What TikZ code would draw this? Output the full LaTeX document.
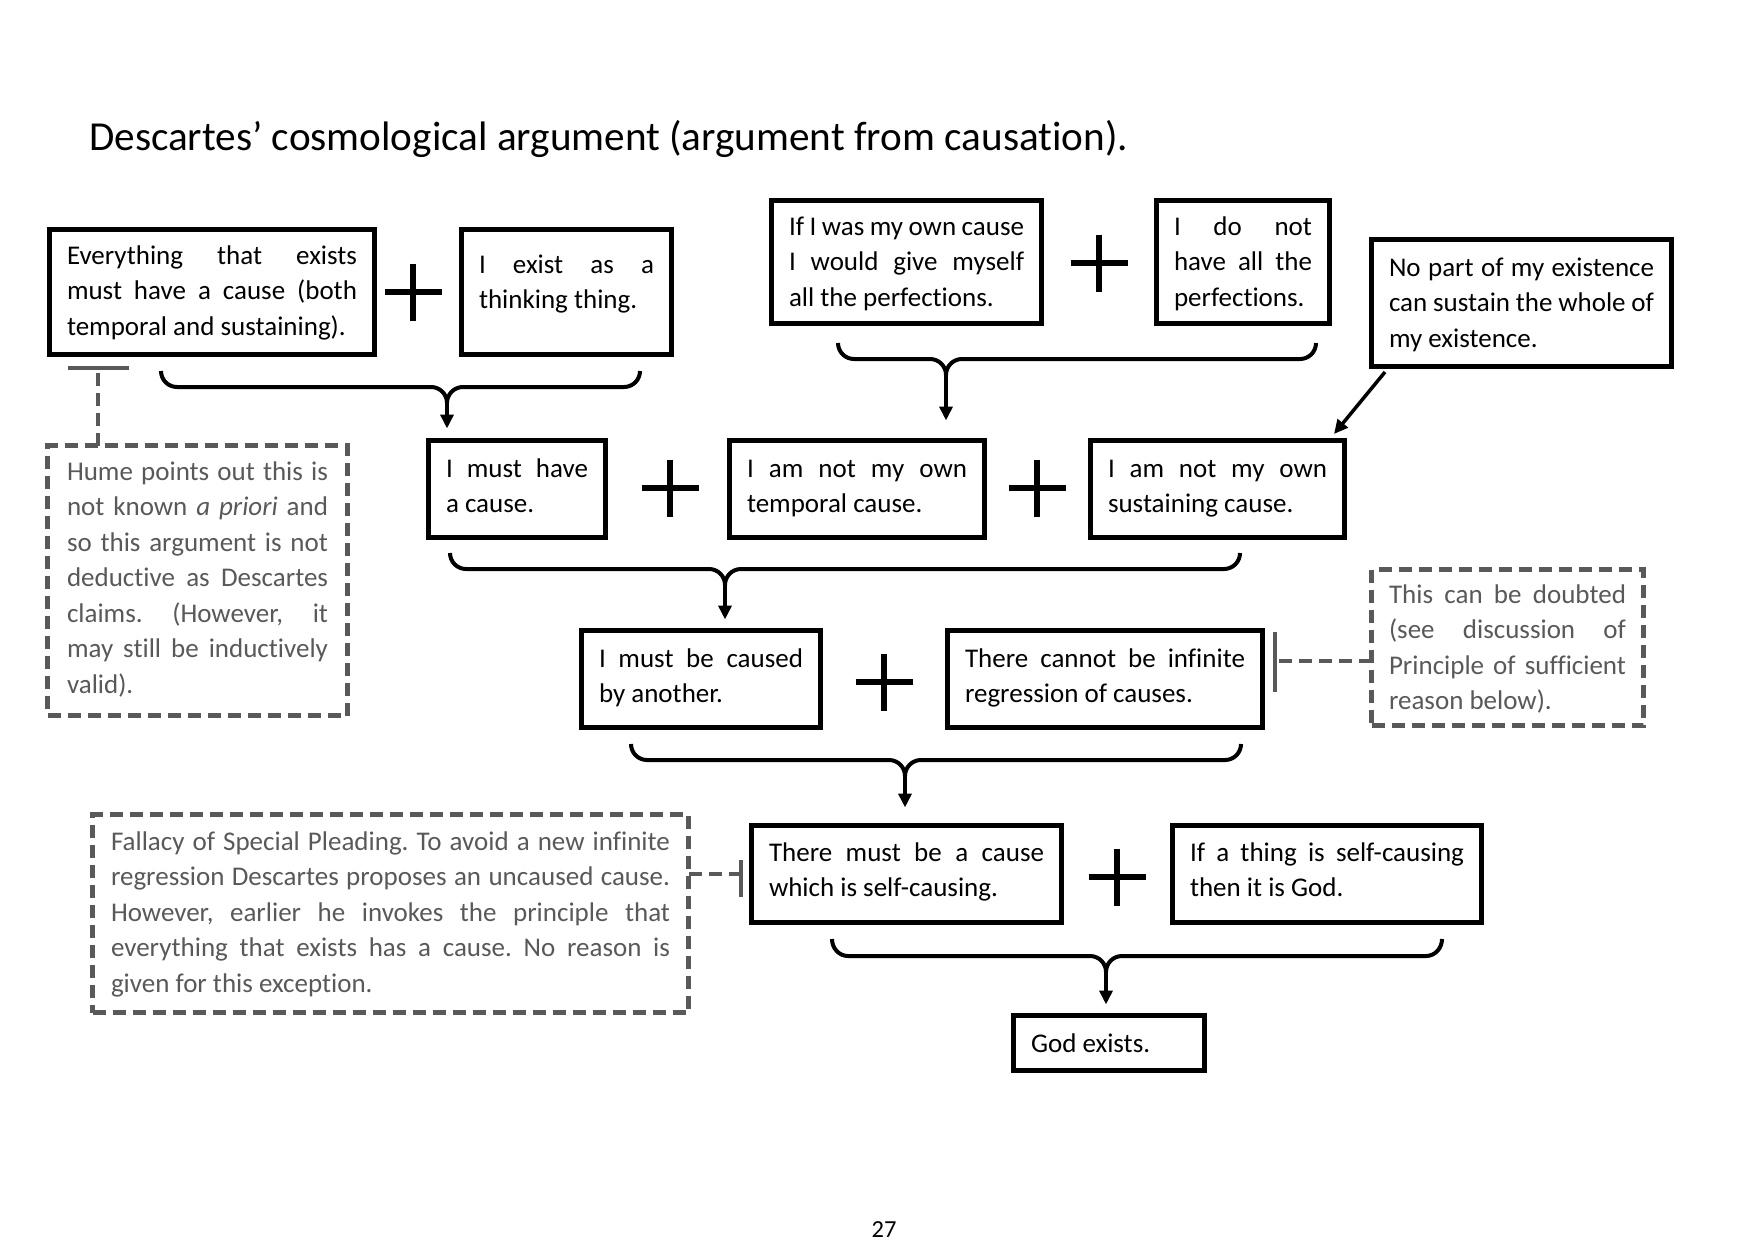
\documentclass[tikz,border=0pt]{standalone}
\usepackage{fontspec}
\setmainfont{Carlito}[Ligatures=NoCommon]
\usetikzlibrary{arrows.meta,calc}
\definecolor{cmtgray}{HTML}{595959}
\frenchspacing
\newcommand\bodyf{\fontsize{27}{35.5}\selectfont\frenchspacing\hyphenpenalty=10000\exhyphenpenalty=10000\tolerance=10000}
% name, style, x1, y1, x2, y2 (outer edges), first baseline, padding, text
\newcommand\Bx[9]{%
 \pgfmathsetmacro\bxX{#3+2.5}%
 \pgfmathsetmacro\bxY{#4+2.5}%
 \pgfmathsetmacro\bxP{#8-2.5}%
 \pgfmathsetmacro\bxW{#5-#3-2*#8}%
 \pgfmathsetmacro\bxH{#7-#4-2.5}%
 \pgfmathsetmacro\bxD{#6-2.5-#7}%
 \node[#2, inner xsep=\bxP pt, text width=\bxW pt, text height=\bxH pt, text depth=\bxD pt] (#1) at (\bxX,\bxY) {#9};}
\begin{document}
\begin{tikzpicture}[x=1pt,y=-1pt,
 box/.style={draw=black, line width=5pt, inner ysep=0pt, outer sep=0pt, align=justify, font=\bodyf, text=black, anchor=north west},
 note/.style={draw=cmtgray, line width=4.5pt, dash pattern=on 13pt off 7pt, inner ysep=0pt, outer sep=0pt, align=justify, font=\bodyf, text=cmtgray, anchor=north west},
 brace/.style={line width=4pt},
 arr/.style={line width=3.5pt, -{Triangle[length=14pt,width=13pt]}},
 plusmark/.style={line width=6.5pt},
 tbar/.style={draw=cmtgray, line width=4.5pt},
 dlink/.style={draw=cmtgray, line width=4.5pt, dash pattern=on 13pt off 7pt},
]
\fill[white] (0,0) rectangle (1740,1240);
\useasboundingbox (0,0) rectangle (1740,1240);

% title
\node[anchor=base west, inner sep=0pt, font=\fontsize{41.2}{48}\selectfont] (title) at (89,150)
 {Descartes’ cosmological argument (argument from causation).};

% main boxes
\Bx{b1}{box}{47}{227}{377}{357}{264}{20}{Everything that exists\linebreak must have a cause (both\linebreak temporal and sustaining).}
\Bx{b2}{box}{459}{227}{674}{357}{273}{20}{I exist as a\linebreak thinking thing.}
\Bx{b3}{box}{769}{198}{1044}{326}{235}{20}{If I was my own cause\linebreak I would give myself\linebreak all the perfections.}
\Bx{b4}{box}{1154}{198}{1332}{326}{235}{20}{I do not\linebreak have all the\linebreak perfections.}
\Bx{b5}{box}{1369}{237}{1674}{369}{276}{20}{No part of my existence\linebreak can sustain the whole of\linebreak my existence.}
\Bx{b6}{box}{426}{438}{608}{540}{477}{20}{I must have\linebreak a cause.}
\Bx{b7}{box}{727}{438}{987}{540}{477}{20}{I am not my own\linebreak temporal cause.}
\Bx{b8}{box}{1088}{438}{1347}{540}{477}{20}{I am not my own\linebreak sustaining cause.}
\Bx{b9}{box}{579}{628}{823}{730}{667}{20}{I must be caused\linebreak by another.}
\Bx{b10}{box}{945}{628}{1265}{730}{667}{20}{There cannot be infinite\linebreak regression of causes.}
\Bx{b11}{box}{749}{823}{1064}{925}{861}{20}{There must be a cause\linebreak which is self-causing.}
\Bx{b12}{box}{1170}{823}{1484}{925}{861}{20}{If a thing is self-causing\linebreak then it is God.}
\Bx{b13}{box}{1011}{1013}{1207}{1073}{1052}{20}{God exists.}

% comment boxes
\Bx{d1}{note}{45}{443}{350}{718}{480}{22}{Hume points out this is\linebreak not known \textit{a priori} and\linebreak so this argument is not\linebreak deductive as Descartes\linebreak claims. (However, it\linebreak may still be inductively\linebreak valid).}
\Bx{d2}{note}{1369}{567}{1646}{728}{603}{20}{This can be doubted\linebreak (see discussion of\linebreak Principle of sufficient\linebreak reason below).}
\Bx{d3}{note}{90}{812}{691}{1015}{850}{21}{Fallacy of Special Pleading. To avoid a new infinite\linebreak regression Descartes proposes an uncaused cause.\linebreak However, earlier he invokes the principle that\linebreak everything that exists has a cause. No reason is\linebreak given for this exception.}

% plus signs
\foreach \px/\py [count=\i] in {413/292, 670/488, 1037/488, 884/682, 1099/263, 1117/877}{
  \coordinate (p\i) at (\px,\py);
  \draw[plusmark] ($(p\i)+(-28.5,0)$) -- ($(p\i)+(28.5,0)$);
  \draw[plusmark] ($(p\i)+(0,-28.5)$) -- ($(p\i)+(0,28.5)$);
}

% braces: name, x-left, x-right, y-top, y-horizontal, x-cusp
\newcommand\Brace[6]{%
  \coordinate (#1) at (#6,#5+16);
  \draw[brace] (#2,#4) to[out=-90,in=180] (#2+16,#5) -- (#6-16,#5) to[out=0,in=90] (#1);
  \draw[brace] (#3,#4) to[out=-90,in=0] (#3-16,#5) -- (#6+16,#5) to[out=180,in=90] (#1);}
\Brace{c1}{161}{640}{371}{387}{447}
\Brace{c2}{838}{1316}{343}{359}{946}
\Brace{c3}{450}{1240}{553}{569}{725}
\Brace{c4}{631}{1241}{744}{760}{905}
\Brace{c5}{832}{1442}{939}{956}{1106}

\draw[arr, shorten >=12pt] (c1) -- (c1 |- b6.north);
\draw[arr, shorten >=20pt] (c2) -- (c2 |- b7.north);
\draw[arr, shorten >=11pt] (c3) -- (c3 |- b9.north);
\draw[arr, shorten >=18pt] (c4) -- (c4 |- b11.north);
\draw[arr, shorten >=11pt] (c5) -- (c5 |- b13.north);

% diagonal arrow
\coordinate (q1) at ($(b5.south west)+(13.5,5.5)$);
\coordinate (q2) at ($(b8.north east)+(-10.5,-6.5)$);
\draw[arr] (q1) -- (q2);

% objections (T-bars)
\coordinate (h1) at (98,368);
\draw[dlink] (h1 |- d1.north) -- (h1);
\draw[tbar] ($(h1)+(-30,0)$) -- ($(h1)+(31,0)$);

\coordinate (h2) at (1275,661);
\draw[dlink] (h2 -| d2.west) -- (h2);
\draw[tbar] ($(h2)+(0,-29)$) -- ($(h2)+(0,31)$);

\coordinate (h3) at (741,874);
\draw[dlink] (h3 -| d3.east) -- (h3);
\draw[tbar] ($(h3)+(0,-14)$) -- ($(h3)+(0,23)$);

% page number
\node[anchor=base, inner sep=0pt, font=\fontsize{24.5}{28}\selectfont] (pagenum) at (884,1237) {27};
\end{tikzpicture}
\end{document}
